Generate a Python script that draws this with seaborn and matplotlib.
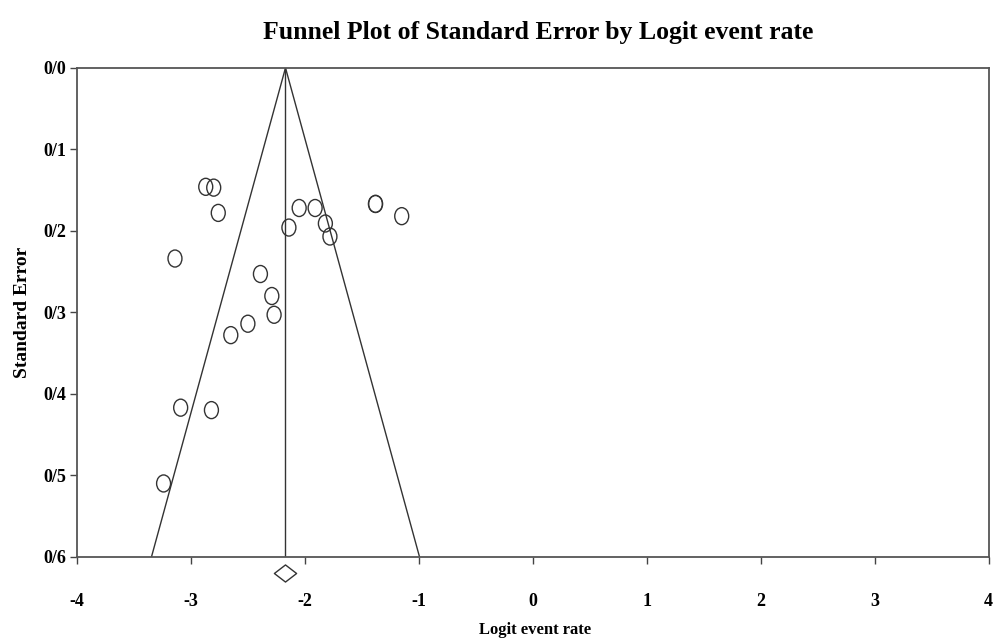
import numpy as np
import pandas as pd
import seaborn as sns
import matplotlib.pyplot as plt
from matplotlib.path import Path
from matplotlib.transforms import Affine2D

# -------------------------------
# Data
# -------------------------------
logit = [-2.87, -2.80, -2.76, -2.05, -1.91, -1.38, -1.38, -1.15, -2.14, -1.82,
         -1.78, -3.14, -2.39, -2.29, -2.27, -2.50, -2.65, -3.09, -2.82, -3.24]
std_err = [0.146, 0.147, 0.178, 0.172, 0.172, 0.167, 0.167, 0.182, 0.196, 0.191,
           0.207, 0.234, 0.253, 0.280, 0.303, 0.314, 0.328, 0.417, 0.420, 0.510]
pooled = -2.17
x_ticks = [-4, -3, -2, -1, 0, 1, 2, 3, 4]
y_ticks = [0.0, 0.1, 0.2, 0.3, 0.4, 0.5, 0.6]
y_labels = ['0/0', '0/1', '0/2', '0/3', '0/4', '0/5', '0/6']

df = pd.DataFrame({'Logit event rate': logit, 'Standard Error': std_err})

# -------------------------------
# Style
# -------------------------------
sns.set_style('white')
plt.rcParams['font.family'] = ['Liberation Serif', 'DejaVu Serif']
plt.rcParams['font.weight'] = 'bold'
plt.rcParams['text.color'] = 'black'
plt.rcParams['axes.labelcolor'] = 'black'
plt.rcParams['xtick.color'] = 'black'
plt.rcParams['ytick.color'] = 'black'

ellipse = Path.unit_circle().transformed(Affine2D().scale(0.82, 1.0))
diamond = Path([(-1, 0), (0, 0.77), (1, 0), (0, -0.77), (-1, 0)],
               [Path.MOVETO, Path.LINETO, Path.LINETO, Path.LINETO, Path.CLOSEPOLY])

fig = plt.figure(figsize=(10.05, 6.40), dpi=100)
ax = fig.add_axes([0.0766, 0.130, 0.907, 0.764])

# funnel lines
se_max = 0.6
ax.plot([pooled, pooled - 1.96 * se_max], [0, se_max], color='#333333', lw=1)
ax.plot([pooled, pooled + 1.96 * se_max], [0, se_max], color='#333333', lw=1)
ax.plot([pooled, pooled], [0, se_max], color='#333333', lw=1)

# studies
sns.scatterplot(data=df, x='Logit event rate', y='Standard Error', ax=ax,
                marker=ellipse, s=150, facecolor='none', edgecolor='#333333',
                linewidth=1.0, zorder=3)

# pooled estimate diamond below the axis
ax.plot([pooled], [0.62], marker=diamond, markersize=16, markerfacecolor='none',
        markeredgecolor='#333333', markeredgewidth=1.0, clip_on=False)

ax.set_xlim(-4, 4)
ax.set_ylim(0.6, 0.0)
ax.set_xticks(x_ticks)
ax.set_xticklabels([str(t) for t in x_ticks])
ax.set_yticks(y_ticks)
ax.set_yticklabels(y_labels)
ax.tick_params(axis='x', direction='out', length=5, width=1, pad=21,
               labelsize=13, color='#444444', labelcolor='black', bottom=True)
ax.tick_params(axis='y', direction='out', length=5, width=1, pad=3,
               labelsize=13, color='#444444', labelcolor='black', left=True)
for lbl in ax.get_xticklabels() + ax.get_yticklabels():
    lbl.set_fontweight('bold')

for sp in ax.spines.values():
    sp.set_visible(True)
    sp.set_color('#555555')
    sp.set_linewidth(1.3)

ax.set_xlabel('Logit event rate', fontsize=12, fontweight='bold')
ax.set_ylabel('Standard Error', fontsize=14, fontweight='bold')
ax.xaxis.set_label_coords(0.502, -0.149)
ax.yaxis.set_label_coords(-0.06, 0.5)
ax.xaxis.label.set_va('center')
ax.yaxis.label.set_va('center')

fig.text(0.536, 1 - 32 / 640, 'Funnel Plot of Standard Error by Logit event rate',
         fontsize=18.5, fontweight='bold', ha='center', va='center')

fig.savefig('out.png', dpi=100)
